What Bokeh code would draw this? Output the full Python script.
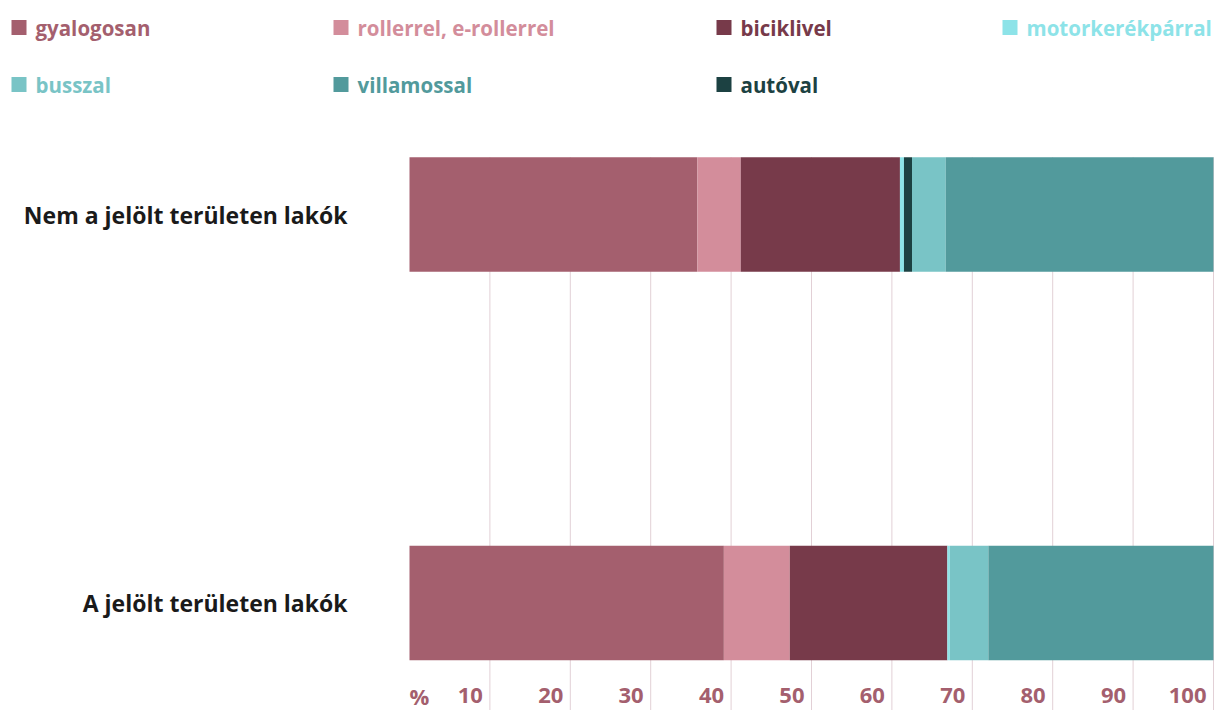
from bokeh.plotting import figure
from bokeh.models import Range1d, ColumnDataSource
from bokeh.core.properties import value
from bokeh.embed import file_html
from bokeh.resources import INLINE

# ---- data ----
categories = ["A jelölt területen lakók", "Nem a jelölt területen lakók"]
modes = ["gyalogosan", "rollerrel, e-rollerrel", "biciklivel", "motorkerékpárral",
         "autóval", "busszal", "villamossal"]
colors = ["#a45f6e", "#d38d9b", "#773a4a", "#8de3e8", "#1c4142", "#79c4c6", "#529a9c"]
# values per category (A jelölt..., Nem a jelölt...)
gyalogosan = [39.1, 35.8]
roller = [8.2, 5.4]
bicikli = [19.6, 19.8]
motor = [0.3, 0.5]
auto = [0.0, 1.0]
busz = [4.8, 4.2]
villamos = [28.0, 33.3]

legend_order = ["gyalogosan", "rollerrel, e-rollerrel", "biciklivel", "motorkerékpárral",
                "busszal", "villamossal", "autóval"]
x_ticks = [10, 20, 30, 40, 50, 60, 70, 80, 90, 100]
tick_labels = ["10", "20", "30", "40", "50", "60", "70", "80", "90", "100"]

FONT = "Open Sans"
W, H = 1216, 710
PX_PER_PCT = 8.04
LEFT = 409
PX_PER_CAT = 388.5
CAT0_Y = 602.5
BAR_H = 0.2947

p = figure(width=W, height=H, x_range=Range1d(0, W), y_range=Range1d(H, 0),
           output_backend="svg", toolbar_location=None, min_border=0,
           x_axis_location=None, y_axis_location=None)
p.grid.visible = False
p.outline_line_color = None
p.extra_x_ranges = {"pct": Range1d(-LEFT / PX_PER_PCT, (W - LEFT) / PX_PER_PCT)}
p.extra_y_ranges = {"cat": Range1d(-(H - CAT0_Y) / PX_PER_CAT, CAT0_Y / PX_PER_CAT)}

# ---- legend ----
col_x = [11, 333, 716, 1002]
row_y = [27, 84]
cmap = dict(zip(modes, colors))
lx, ly, lc, ln = [], [], [], []
for i, name in enumerate(legend_order):
    lx.append(col_x[i % 4])
    ly.append(row_y[i // 4])
    lc.append(cmap[name])
    ln.append(name)
lsrc = ColumnDataSource(dict(x=lx, xc=[v + 7.5 for v in lx], y=ly, c=lc, t=ln))
p.rect(x="xc", y="y", width=15, height=15, width_units="screen", height_units="screen",
       fill_color="c", line_color=None, source=lsrc)
p.text(x="x", y="y", text="t", text_color="c", source=lsrc, x_offset=24,
       text_font=value(FONT), text_font_style="bold", text_font_size="20.5px",
       text_baseline="middle", text_align="left")

# ---- grid lines ----
p.segment(x0=x_ticks, x1=x_ticks, y0=[1 + BAR_H / 2] * len(x_ticks),
          y1=[-(H - CAT0_Y) / PX_PER_CAT] * len(x_ticks),
          x_range_name="pct", y_range_name="cat", line_color="#e2d0d6", line_width=1)

# ---- bars ----
src = ColumnDataSource(dict(y=[0, 1], gyalogosan=gyalogosan, roller=roller, bicikli=bicikli,
                            motor=motor, auto=auto, busz=busz, villamos=villamos))
p.hbar_stack(["gyalogosan", "roller", "bicikli", "motor", "auto", "busz", "villamos"],
             y="y", height=BAR_H, color=colors, line_color=None, source=src,
             x_range_name="pct", y_range_name="cat")

# ---- category labels ----
p.text(x=[0, 0], y=[0, 1], text=categories, x_range_name="pct", y_range_name="cat",
       x_offset=-62, text_align="right", text_baseline="middle", text_color="#1a1a1a",
       text_font=value(FONT), text_font_style="bold", text_font_size="23px")

# ---- x tick labels ----
tsrc = ColumnDataSource(dict(x=x_ticks, y=[695] * len(x_ticks), t=tick_labels))
p.text(x="x", y="y", text="t", source=tsrc, x_range_name="pct", text_align="right",
       text_baseline="middle", x_offset=-7, text_color="#a45f6e", text_font=value(FONT),
       text_font_style="bold", text_font_size="22px")
p.text(x=[0], y=[695], text=["%"], x_range_name="pct", text_align="left",
       text_baseline="middle", text_color="#a45f6e", text_font=value(FONT),
       text_font_style="bold", text_font_size="22px")

open("out.html", "w").write(file_html(p, INLINE))
